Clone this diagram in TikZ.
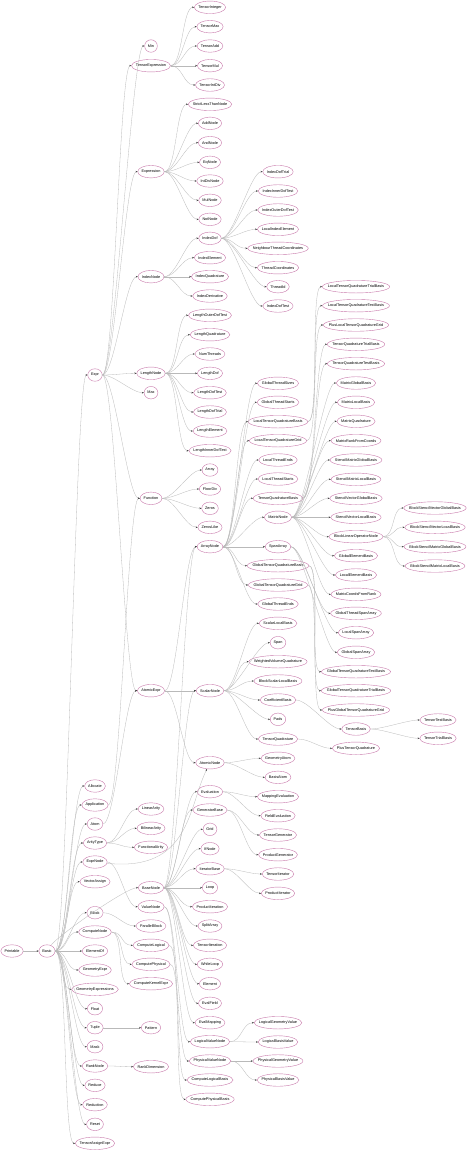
\documentclass[tikz,border=0pt]{standalone}
\usepackage{fontspec}
\setmainfont{Liberation Sans}
\usetikzlibrary{shapes.geometric,arrows.meta}
\definecolor{clsborder}{RGB}{200,120,170}
\definecolor{linkgray}{RGB}{185,185,185}
% ellipse width = 1.09 * text width + 6pt
\newcommand{\lbl}[1]{\makebox[\dimexpr\width*771/1000+4.24pt\relax]{#1}}
\begin{document}
\begin{tikzpicture}[x=1pt,y=-1pt]
  \tikzstyle{cls}=[ellipse,draw=clsborder,line width=0.4pt,inner sep=0pt,minimum height=12.5pt,font=\fontsize{3.8}{4}\selectfont]
  \tikzstyle{every edge}=[draw=linkgray,line width=0.3pt,out=0,in=180,distance=12pt,-{Stealth[length=2pt,width=1.6pt,color=black!75]}]
  \tikzstyle{link}=[draw=linkgray,line width=0.3pt,-{Stealth[length=2pt,width=1.6pt,color=black!75]}]
  \useasboundingbox[fill=white] (0,0) rectangle (469,1152);
  % root and Basic
  \node[cls] (Printable) at (12,951) {\lbl{Printable}};
  \node[cls] (Basic) at (47,951) {\lbl{Basic}};
  % second column
  \node[cls] (Expr) at (95,375) {\lbl{Expr}};
  \node[cls] (Allocate) at (95,786) {\lbl{Allocate}};
  \node[cls] (Application) at (95,805) {\lbl{Application}};
  \node[cls] (Atom) at (95,824) {\lbl{Atom}};
  \node[cls] (ArityType) at (95,843) {\lbl{ArityType}};
  \node[cls] (ExprNode) at (95,862) {\lbl{ExprNode}};
  \node[cls] (VectorAssign) at (95,881.7) {\lbl{VectorAssign}};
  \node[cls] (Block) at (95,912.7) {\lbl{Block}};
  \node[cls] (ComputeNode) at (95,932) {\lbl{ComputeNode}};
  \node[cls] (ElementOf) at (95,951) {\lbl{ElementOf}};
  \node[cls] (GeometryExpr) at (95,970) {\lbl{GeometryExpr}};
  \node[cls] (GeometryExpressions) at (95,989.3) {\lbl{GeometryExpressions}};
  \node[cls] (Float) at (95,1008.7) {\lbl{Float}};
  \node[cls] (Tuple) at (95,1027.7) {\lbl{Tuple}};
  \node[cls] (Mask) at (95,1046.7) {\lbl{Mask}};
  \node[cls] (RankNode) at (95,1066) {\lbl{RankNode}};
  \node[cls] (Reduce) at (95,1085.3) {\lbl{Reduce}};
  \node[cls] (Reduction) at (95,1104.7) {\lbl{Reduction}};
  \node[cls] (Reset) at (95,1124.3) {\lbl{Reset}};
  \node[cls] (TensorAssignExpr) at (95,1143.3) {\lbl{TensorAssignExpr}};
  % third column
  \node[cls] (Min) at (151,46) {\lbl{Min}};
  \node[cls] (TensorExpression) at (151,65.7) {\lbl{TensorExpression}};
  \node[cls] (Expression) at (151,171.7) {\lbl{Expression}};
  \node[cls] (IndexNode) at (151,276.7) {\lbl{IndexNode}};
  \node[cls] (LengthNode) at (151,373.3) {\lbl{LengthNode}};
  \node[cls] (Max) at (151,392.7) {\lbl{Max}};
  \node[cls] (Function) at (151,498.3) {\lbl{Function}};
  \node[cls] (AtomicExpr) at (151,690.7) {\lbl{AtomicExpr}};
  \node[cls] (LinearArity) at (151,809) {\lbl{LinearArity}};
  \node[cls] (BilinearArity) at (151,828.3) {\lbl{BilinearArity}};
  \node[cls] (FunctionalArity) at (151,847.3) {\lbl{FunctionalArity}};
  \node[cls] (BaseNode) at (151,887.7) {\lbl{BaseNode}};
  \node[cls] (ValueNode) at (151,906.7) {\lbl{ValueNode}};
  \node[cls] (ParallelBlock) at (151,926) {\lbl{ParallelBlock}};
  \node[cls] (ComputeLogical) at (151,945.3) {\lbl{ComputeLogical}};
  \node[cls] (ComputePhysical) at (151,964.3) {\lbl{ComputePhysical}};
  \node[cls] (ComputeKernelExpr) at (151,983.7) {\lbl{ComputeKernelExpr}};
  \node[cls] (Pattern) at (151,1027.7) {\lbl{Pattern}};
  \node[cls] (RankDimension) at (151,1066.7) {\lbl{RankDimension}};
  % fourth column
  \node[cls] (TensorInteger) at (210,7.3) {\lbl{TensorInteger}};
  \node[cls] (TensorMax) at (210,26.7) {\lbl{TensorMax}};
  \node[cls] (TensorAdd) at (210,46) {\lbl{TensorAdd}};
  \node[cls] (TensorMul) at (210,65.7) {\lbl{TensorMul}};
  \node[cls] (TensorIntDiv) at (210,85) {\lbl{TensorIntDiv}};
  \node[cls] (StrictLessThanNode) at (210,104.3) {\lbl{StrictLessThanNode}};
  \node[cls] (AddNode) at (210,123.3) {\lbl{AddNode}};
  \node[cls] (AndNode) at (210,142.7) {\lbl{AndNode}};
  \node[cls] (EqNode) at (210,162.3) {\lbl{EqNode}};
  \node[cls] (IntDivNode) at (210,181) {\lbl{IntDivNode}};
  \node[cls] (MulNode) at (210,200.3) {\lbl{MulNode}};
  \node[cls] (NotNode) at (210,219.3) {\lbl{NotNode}};
  \node[cls] (IndexDof) at (210,238.3) {\lbl{IndexDof}};
  \node[cls] (IndexElement) at (210,257.7) {\lbl{IndexElement}};
  \node[cls] (IndexQuadrature) at (210,276.7) {\lbl{IndexQuadrature}};
  \node[cls] (IndexDerivative) at (210,296) {\lbl{IndexDerivative}};
  \node[cls] (LengthOuterDofTest) at (210,315.3) {\lbl{LengthOuterDofTest}};
  \node[cls] (LengthQuadrature) at (210,334.7) {\lbl{LengthQuadrature}};
  \node[cls] (NumThreads) at (210,354) {\lbl{NumThreads}};
  \node[cls] (LengthDof) at (210,373.3) {\lbl{LengthDof}};
  \node[cls] (LengthDofTest) at (210,392.7) {\lbl{LengthDofTest}};
  \node[cls] (LengthDofTrial) at (210,412) {\lbl{LengthDofTrial}};
  \node[cls] (LengthElement) at (210,431) {\lbl{LengthElement}};
  \node[cls] (LengthInnerDofTest) at (210,450.7) {\lbl{LengthInnerDofTest}};
  \node[cls] (Array) at (210,470) {\lbl{Array}};
  \node[cls] (FloorDiv) at (210,489) {\lbl{FloorDiv}};
  \node[cls] (Zeros) at (210,508.3) {\lbl{Zeros}};
  \node[cls] (ZerosLike) at (210,527.3) {\lbl{ZerosLike}};
  \node[cls] (ArrayNode) at (210,546.7) {\lbl{ArrayNode}};
  \node[cls] (ScalarNode) at (210,690.7) {\lbl{ScalarNode}};
  \node[cls] (AtomicNode) at (210,762.7) {\lbl{AtomicNode}};
  \node[cls] (Evaluation) at (210,791.7) {\lbl{Evaluation}};
  \node[cls] (GeneratorBase) at (210,810) {\lbl{GeneratorBase}};
  \node[cls] (Grid) at (210,829.3) {\lbl{Grid}};
  \node[cls] (IfNode) at (210,848.7) {\lbl{IfNode}};
  \node[cls] (IteratorBase) at (210,868.7) {\lbl{IteratorBase}};
  \node[cls] (Loop) at (210,887.7) {\lbl{Loop}};
  \node[cls] (ProductIteration) at (210,906.7) {\lbl{ProductIteration}};
  \node[cls] (SplitArray) at (210,926) {\lbl{SplitArray}};
  \node[cls] (TensorIteration) at (210,945.3) {\lbl{TensorIteration}};
  \node[cls] (WhileLoop) at (210,964.3) {\lbl{WhileLoop}};
  \node[cls] (Element) at (210,983.7) {\lbl{Element}};
  \node[cls] (EvalField) at (210,1003.3) {\lbl{EvalField}};
  \node[cls] (EvalMapping) at (210,1022.7) {\lbl{EvalMapping}};
  \node[cls] (LogicalValueNode) at (210,1041.7) {\lbl{LogicalValueNode}};
  \node[cls] (PhysicalValueNode) at (210,1061) {\lbl{PhysicalValueNode}};
  \node[cls] (ComputeLogicalBasis) at (210,1080) {\lbl{ComputeLogicalBasis}};
  \node[cls] (ComputePhysicalBasis) at (210,1099.3) {\lbl{ComputePhysicalBasis}};
  % fifth column
  \node[cls] (IndexDofTrial) at (278,171.7) {\lbl{IndexDofTrial}};
  \node[cls] (IndexInnerDofTest) at (278,191) {\lbl{IndexInnerDofTest}};
  \node[cls] (IndexOuterDofTest) at (278,210) {\lbl{IndexOuterDofTest}};
  \node[cls] (LocalIndexElement) at (278,229.3) {\lbl{LocalIndexElement}};
  \node[cls] (NeighbourThreadCoordinates) at (278,248.3) {\lbl{NeighbourThreadCoordinates}};
  \node[cls] (ThreadCoordinates) at (278,267.7) {\lbl{ThreadCoordinates}};
  \node[cls] (ThreadId) at (278,286.7) {\lbl{ThreadId}};
  \node[cls] (IndexDofTest) at (278,306) {\lbl{IndexDofTest}};
  \node[cls] (GlobalThreadSizes) at (278,383.3) {\lbl{GlobalThreadSizes}};
  \node[cls] (GlobalThreadStarts) at (278,402.3) {\lbl{GlobalThreadStarts}};
  \node[cls] (LocalTensorQuadratureBasis) at (278,421.7) {\lbl{LocalTensorQuadratureBasis}};
  \node[cls] (LocalTensorQuadratureGrid) at (278,440.7) {\lbl{LocalTensorQuadratureGrid}};
  \node[cls] (LocalThreadEnds) at (278,460) {\lbl{LocalThreadEnds}};
  \node[cls] (LocalThreadStarts) at (278,479) {\lbl{LocalThreadStarts}};
  \node[cls] (TensorQuadratureBasis) at (278,498.3) {\lbl{TensorQuadratureBasis}};
  \node[cls] (MatrixNode) at (278,517.3) {\lbl{MatrixNode}};
  \node[cls] (SpanArray) at (278,546.7) {\lbl{SpanArray}};
  \node[cls] (GlobalTensorQuadratureBasis) at (278,565.7) {\lbl{GlobalTensorQuadratureBasis}};
  \node[cls] (GlobalTensorQuadratureGrid) at (278,585) {\lbl{GlobalTensorQuadratureGrid}};
  \node[cls] (GlobalThreadEnds) at (278,604) {\lbl{GlobalThreadEnds}};
  \node[cls] (ScalarLocalBasis) at (278,623.3) {\lbl{ScalarLocalBasis}};
  \node[cls] (Span) at (278,642.7) {\lbl{Span}};
  \node[cls] (WeightedVolumeQuadrature) at (278,661.7) {\lbl{WeightedVolumeQuadrature}};
  \node[cls] (BlockScalarLocalBasis) at (278,681) {\lbl{BlockScalarLocalBasis}};
  \node[cls] (CoefficientBasis) at (278,700) {\lbl{CoefficientBasis}};
  \node[cls] (Pads) at (278,719.3) {\lbl{Pads}};
  \node[cls] (TensorQuadrature) at (278,739) {\lbl{TensorQuadrature}};
  \node[cls] (GeometryAtom) at (278,758.3) {\lbl{GeometryAtom}};
  \node[cls] (BasisAtom) at (278,777.3) {\lbl{BasisAtom}};
  \node[cls] (MappingEvaluation) at (278,796.7) {\lbl{MappingEvaluation}};
  \node[cls] (FieldEvaluation) at (278,815.7) {\lbl{FieldEvaluation}};
  \node[cls] (TensorGenerator) at (278,835) {\lbl{TensorGenerator}};
  \node[cls] (ProductGenerator) at (278,854.7) {\lbl{ProductGenerator}};
  \node[cls] (TensorIterator) at (278,874) {\lbl{TensorIterator}};
  \node[cls] (ProductIterator) at (278,893.3) {\lbl{ProductIterator}};
  \node[cls] (LogicalGeometryValue) at (278,1022.7) {\lbl{LogicalGeometryValue}};
  \node[cls] (LogicalBasisValue) at (278,1042) {\lbl{LogicalBasisValue}};
  \node[cls] (PhysicalGeometryValue) at (278,1061) {\lbl{PhysicalGeometryValue}};
  \node[cls] (PhysicalBasisValue) at (278,1080) {\lbl{PhysicalBasisValue}};
  % sixth column
  \node[cls] (LocalTensorQuadratureTrialBasis) at (356,286.7) {\lbl{LocalTensorQuadratureTrialBasis}};
  \node[cls] (LocalTensorQuadratureTestBasis) at (356,305.7) {\lbl{LocalTensorQuadratureTestBasis}};
  \node[cls] (PlusLocalTensorQuadratureGrid) at (356,325) {\lbl{PlusLocalTensorQuadratureGrid}};
  \node[cls] (TensorQuadratureTrialBasis) at (356,344.3) {\lbl{TensorQuadratureTrialBasis}};
  \node[cls] (TensorQuadratureTestBasis) at (356,363.7) {\lbl{TensorQuadratureTestBasis}};
  \node[cls] (MatrixGlobalBasis) at (356,383) {\lbl{MatrixGlobalBasis}};
  \node[cls] (MatrixLocalBasis) at (356,402.3) {\lbl{MatrixLocalBasis}};
  \node[cls] (MatrixQuadrature) at (356,421.3) {\lbl{MatrixQuadrature}};
  \node[cls] (MatrixRankFromCoords) at (356,440.7) {\lbl{MatrixRankFromCoords}};
  \node[cls] (StencilMatrixGlobalBasis) at (356,460) {\lbl{StencilMatrixGlobalBasis}};
  \node[cls] (StencilMatrixLocalBasis) at (356,479.3) {\lbl{StencilMatrixLocalBasis}};
  \node[cls] (StencilVectorGlobalBasis) at (356,498.3) {\lbl{StencilVectorGlobalBasis}};
  \node[cls] (StencilVectorLocalBasis) at (356,517.3) {\lbl{StencilVectorLocalBasis}};
  \node[cls] (BlockLinearOperatorNode) at (356,536.7) {\lbl{BlockLinearOperatorNode}};
  \node[cls] (GlobalElementBasis) at (356,555.7) {\lbl{GlobalElementBasis}};
  \node[cls] (LocalElementBasis) at (356,575) {\lbl{LocalElementBasis}};
  \node[cls] (MatrixCoordsFromRank) at (356,594.3) {\lbl{MatrixCoordsFromRank}};
  \node[cls] (GlobalThreadSpanArray) at (356,613.3) {\lbl{GlobalThreadSpanArray}};
  \node[cls] (LocalSpanArray) at (356,632.7) {\lbl{LocalSpanArray}};
  \node[cls] (GlobalSpanArray) at (356,652.3) {\lbl{GlobalSpanArray}};
  \node[cls] (GlobalTensorQuadratureTestBasis) at (356,671.7) {\lbl{GlobalTensorQuadratureTestBasis}};
  \node[cls] (GlobalTensorQuadratureTrialBasis) at (356,690.7) {\lbl{GlobalTensorQuadratureTrialBasis}};
  \node[cls] (PlusGlobalTensorQuadratureGrid) at (356,710) {\lbl{PlusGlobalTensorQuadratureGrid}};
  \node[cls] (TensorBasis) at (356,729) {\lbl{TensorBasis}};
  \node[cls] (PlusTensorQuadrature) at (356,748.3) {\lbl{PlusTensorQuadrature}};
  % seventh column
  \node[cls] (BlockStencilVectorGlobalBasis) at (435,508) {\lbl{BlockStencilVectorGlobalBasis}};
  \node[cls] (BlockStencilVectorLocalBasis) at (435,527.3) {\lbl{BlockStencilVectorLocalBasis}};
  \node[cls] (BlockStencilMatrixGlobalBasis) at (435,546.7) {\lbl{BlockStencilMatrixGlobalBasis}};
  \node[cls] (BlockStencilMatrixLocalBasis) at (435,566) {\lbl{BlockStencilMatrixLocalBasis}};
  \node[cls] (TensorTestBasis) at (438,720) {\lbl{TensorTestBasis}};
  \node[cls] (TensorTrialBasis) at (438,738.3) {\lbl{TensorTrialBasis}};
  % inheritance links
  \path (Printable) edge (Basic);
  \path (Basic) edge (Expr) edge (Allocate) edge (Application) edge (Atom) edge (ArityType)
    edge (ExprNode) edge (VectorAssign) edge (Block) edge (ComputeNode) edge (ElementOf)
    edge (GeometryExpr) edge (GeometryExpressions) edge (Float) edge (Tuple) edge (Mask)
    edge (RankNode) edge (Reduce) edge (Reduction) edge (Reset) edge (TensorAssignExpr)
    edge[out=55] (BaseNode);
  \path (Expr) edge (Min) edge (TensorExpression) edge (Expression) edge (IndexNode)
    edge (LengthNode) edge (Max) edge (Function) edge (AtomicExpr);
  \path (Application) edge (Function);
  \path (Atom) edge (AtomicExpr);
  \path (ArityType) edge (LinearArity) edge (BilinearArity) edge (FunctionalArity);
  \draw[link] (ExprNode) .. controls +(95,10) and +(-22,45) .. (AtomicNode);
  \path (ExprNode) edge (ValueNode);
  \path (Block) edge (ParallelBlock);
  \path (ComputeNode) edge (ComputeLogical) edge (ComputePhysical) edge (ComputeKernelExpr);
  \path (Tuple) edge (Pattern);
  \path (RankNode) edge (RankDimension);
  \path (TensorExpression) edge (TensorInteger) edge (TensorMax) edge (TensorAdd)
    edge (TensorMul) edge (TensorIntDiv);
  \path (Expression) edge (StrictLessThanNode) edge (AddNode) edge (AndNode) edge (EqNode)
    edge (IntDivNode) edge (MulNode) edge (NotNode);
  \path (IndexNode) edge (IndexDof) edge (IndexElement) edge (IndexQuadrature) edge (IndexDerivative);
  \path (IndexDof) edge (IndexDofTrial) edge (IndexInnerDofTest) edge (IndexOuterDofTest)
    edge (LocalIndexElement) edge (NeighbourThreadCoordinates) edge (ThreadCoordinates)
    edge (ThreadId) edge (IndexDofTest);
  \path (LengthNode) edge (LengthOuterDofTest) edge (LengthQuadrature) edge (NumThreads)
    edge (LengthDof) edge (LengthDofTest) edge (LengthDofTrial) edge (LengthElement)
    edge (LengthInnerDofTest);
  \path (Function) edge (Array) edge (FloorDiv) edge (Zeros) edge (ZerosLike);
  \path (AtomicExpr) edge (ArrayNode) edge (ScalarNode) edge (AtomicNode);
  \path (BaseNode) edge (ArrayNode) edge (ScalarNode) edge (Evaluation) edge (GeneratorBase)
    edge (Grid) edge (IfNode) edge (IteratorBase) edge (Loop) edge (ProductIteration)
    edge (SplitArray) edge (TensorIteration) edge (WhileLoop) edge (Element)
    edge (EvalField) edge (EvalMapping);
  \path (ValueNode) edge (LogicalValueNode) edge (PhysicalValueNode);
  \path (ComputeLogical) edge (ComputeLogicalBasis);
  \path (ComputePhysical) edge (ComputePhysicalBasis);
  \path (ArrayNode) edge (GlobalThreadSizes) edge (GlobalThreadStarts)
    edge (LocalTensorQuadratureBasis) edge (LocalTensorQuadratureGrid) edge (LocalThreadEnds)
    edge (LocalThreadStarts) edge (TensorQuadratureBasis) edge (MatrixNode) edge (SpanArray)
    edge (GlobalTensorQuadratureBasis) edge (GlobalTensorQuadratureGrid) edge (GlobalThreadEnds);
  \path (ScalarNode) edge (ScalarLocalBasis) edge (Span) edge (WeightedVolumeQuadrature)
    edge (BlockScalarLocalBasis) edge (CoefficientBasis) edge (Pads) edge (TensorQuadrature);
  \path (AtomicNode) edge (GeometryAtom) edge (BasisAtom);
  \path (Evaluation) edge (MappingEvaluation) edge (FieldEvaluation);
  \path (GeneratorBase) edge (TensorGenerator) edge (ProductGenerator);
  \path (IteratorBase) edge (TensorIterator) edge (ProductIterator);
  \path (LogicalValueNode) edge (LogicalGeometryValue) edge (LogicalBasisValue);
  \path (PhysicalValueNode) edge (PhysicalGeometryValue) edge (PhysicalBasisValue);
  \path (LocalTensorQuadratureBasis) edge (LocalTensorQuadratureTrialBasis) edge (LocalTensorQuadratureTestBasis);
  \path (LocalTensorQuadratureGrid) edge (PlusLocalTensorQuadratureGrid);
  \path (TensorQuadratureBasis) edge (TensorQuadratureTrialBasis) edge (TensorQuadratureTestBasis);
  \path (MatrixNode) edge (MatrixGlobalBasis) edge (MatrixLocalBasis) edge (MatrixQuadrature)
    edge (MatrixRankFromCoords) edge (StencilMatrixGlobalBasis) edge (StencilMatrixLocalBasis)
    edge (StencilVectorGlobalBasis) edge (StencilVectorLocalBasis) edge (BlockLinearOperatorNode)
    edge (GlobalElementBasis) edge (LocalElementBasis) edge (MatrixCoordsFromRank);
  \path (SpanArray) edge (GlobalThreadSpanArray) edge (LocalSpanArray) edge (GlobalSpanArray);
  \path (GlobalTensorQuadratureBasis) edge (GlobalTensorQuadratureTestBasis) edge (GlobalTensorQuadratureTrialBasis);
  \path (GlobalTensorQuadratureGrid) edge (PlusGlobalTensorQuadratureGrid);
  \path (CoefficientBasis) edge (TensorBasis);
  \path (TensorQuadrature) edge (PlusTensorQuadrature);
  \path (TensorBasis) edge (TensorTestBasis) edge (TensorTrialBasis);
  \path (BlockLinearOperatorNode) edge (BlockStencilVectorGlobalBasis) edge (BlockStencilVectorLocalBasis)
    edge (BlockStencilMatrixGlobalBasis) edge (BlockStencilMatrixLocalBasis);
\end{tikzpicture}
\end{document}
